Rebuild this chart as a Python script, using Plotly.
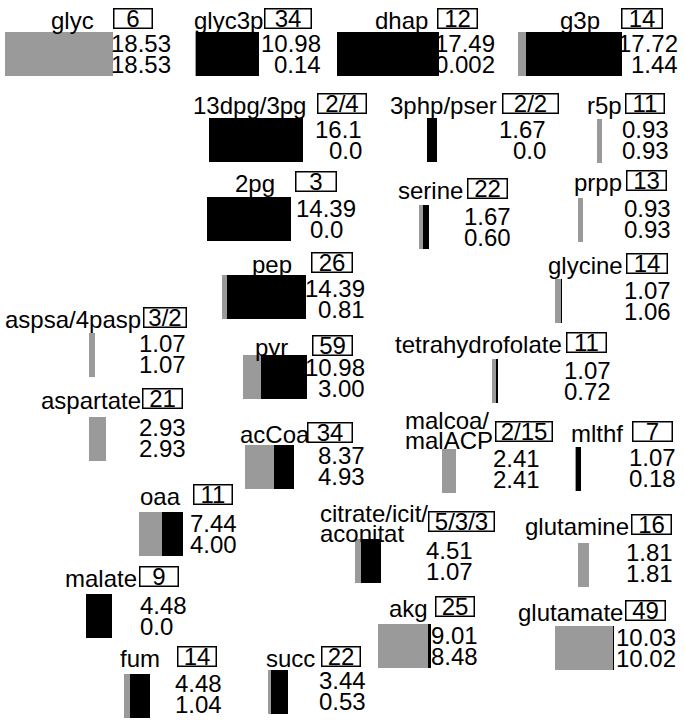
import plotly.graph_objects as go

# ---------------- data ----------------
names = ["glyc", "glyc3p", "dhap", "g3p", "13dpg/3pg", "3php/pser", "r5p",
         "2pg", "serine", "prpp", "pep", "glycine", "aspsa/4pasp", "pyr",
         "tetrahydrofolate", "aspartate", "acCoa", "malcoa/<br>malACP", "mlthf",
         "oaa", "citrate/icit/<br>aconitat", "glutamine", "malate", "akg",
         "glutamate", "fum", "succ"]
box_text = ["6", "34", "12", "14", "2/4", "2/2", "11",
            "3", "22", "13", "26", "14", "3/2", "59",
            "11", "21", "34", "2/15", "7",
            "11", "5/3/3", "16", "9", "25",
            "49", "14", "22"]
total_txt = ["18.53", "10.98", "17.49", "17.72", "16.1", "1.67", "0.93",
             "14.39", "1.67", "0.93", "14.39", "1.07", "1.07", "10.98",
             "1.07", "2.93", "8.37", "2.41", "1.07",
             "7.44", "4.51", "1.81", "4.48", "9.01",
             "10.03", "4.48", "3.44"]
part_txt = ["18.53", "0.14", "0.002", "1.44", "0.0", "0.0", "0.93",
            "0.0", "0.60", "0.93", "0.81", "1.06", "1.07", "3.00",
            "0.72", "2.93", "4.93", "2.41", "0.18",
            "4.00", "1.07", "1.81", "0.0", "8.48",
            "10.02", "1.04", "0.53"]
total = [float(s) for s in total_txt]
part = [float(s) for s in part_txt]

# ---------------- layout (pixels) ----------------
K = 5.85          # pixels per unit of value
W, H = 685, 720
BAR_H = 44
FS = 24
GRAY = "#9a9a9a"
LDY = 2           # label baseline nudge

# label: (x, y, anchor)
label_pos = [(72.5, 18.5, "center"), (228, 18.5, "center"), (401.5, 18.5, "center"), (580, 18.5, "center"),
             (249.5, 103.5, "center"), (443, 103.5, "center"), (604, 103.5, "center"),
             (255, 181, "center"), (430.5, 188.5, "center"), (597.5, 180.5, "center"),
             (272, 262.5, "center"), (585.5, 263.5, "center"), (72.5, 317, "center"),
             (271, 345, "center"), (478, 342.5, "center"), (90.5, 398.5, "center"),
             (274.5, 432.5, "center"), (403, 418, "left"), (596.5, 431, "center"),
             (160, 494, "center"), (318, 511, "left"), (577, 524.5, "center"),
             (101, 576, "center"), (408, 606.5, "center"), (570.5, 610, "center"),
             (139.5, 656.5, "center"), (290, 656, "center")]
# box: (x1, x2, y)
box_pos = [(113, 153, 18.5), (264, 312, 18.5), (437, 478, 18.5), (621, 663, 18.5),
           (317, 367, 103.5), (502, 559, 103.5), (625, 665, 103.5),
           (295, 337, 181), (467, 508, 188.5), (626, 667, 180.5),
           (311, 353, 262.5), (626, 668, 263.5), (143, 187, 317),
           (312, 353, 345), (566, 607, 342.5), (142, 183, 398.5),
           (307, 353, 432.5), (495, 553, 431.5), (632, 673, 431),
           (193, 233, 494), (428, 495, 521), (631, 672, 524.5),
           (139, 179, 576), (435, 475, 606.5), (625, 666, 610),
           (177, 217, 656.5), (321, 361, 656)]
# bar: (left, top)
bar_pos = [(5, 32), (195, 32), (337, 32), (518, 32),
           (209, 118), (427, 118), (597, 119),
           (207, 197), (419, 205), (578, 198),
           (222, 275), (555, 279), (89, 333),
           (243, 355), (492, 359), (89, 417),
           (245, 445), (442, 449), (575, 447),
           (139, 512), (355, 539), (578, 543),
           (86, 594), (378, 624), (555, 626),
           (124, 674), (268, 670)]
# numbers: (x, first line y, anchor)
num_pos = [(173, 43, "right"), (323, 43, "right"), (497, 43, "right"), (680, 43, "right"),
           (364, 129, "right"), (548, 129, "right"), (671, 129, "right"),
           (326, 208, "center"), (513, 216, "right"), (673, 208, "right"),
           (367, 288, "right"), (673, 290, "right"), (188, 343, "right"),
           (367, 367, "right"), (613, 370, "right"), (188, 427, "right"),
           (367, 455, "right"), (542, 458, "right"), (678, 457, "right"),
           (239, 523, "right"), (475, 550, "right"), (675, 552, "right"),
           (138, 605, "left"), (480, 635, "right"), (678, 637, "right"),
           (224, 683, "right"), (368, 680, "right")]
LINE = 21

font = dict(family="Liberation Sans, Arial, sans-serif", size=FS, color="black")

fig = go.Figure()
ys = [t + BAR_H / 2 for (_, t) in bar_pos]
lefts = [l / K for (l, _) in bar_pos]
fig.add_trace(go.Bar(orientation="h", y=ys, x=part, base=lefts, width=BAR_H,
                     marker=dict(color=GRAY, line=dict(width=0)), hoverinfo="skip"))
fig.add_trace(go.Bar(orientation="h", y=ys, x=[t - p for t, p in zip(total, part)],
                     base=[b + p for b, p in zip(lefts, part)], width=BAR_H,
                     marker=dict(color="black", line=dict(width=0)), hoverinfo="skip"))

ann = []
for i, nm in enumerate(names):
    lx, ly, la = label_pos[i]
    lines = nm.split("<br>")
    step = 20 if len(lines) > 1 else 0
    for j, ln in enumerate(lines):
        ann.append(dict(x=lx / K, y=ly + LDY + j * step, text=ln, xanchor=la, yanchor="middle",
                        showarrow=False, font=font))
    x1, x2, by = box_pos[i]
    ann.append(dict(x=(x1 + x2) / 2 / K, y=by, text=box_text[i], xanchor="center", yanchor="middle",
                    showarrow=False, font=font, width=x2 - x1 - 3, height=18,
                    bordercolor="black", borderwidth=1.5, borderpad=0, align="center"))
    nx, ny, na = num_pos[i]
    ann.append(dict(x=nx / K, y=ny, text=total_txt[i], xanchor=na, yanchor="middle",
                    showarrow=False, font=font))
    ann.append(dict(x=nx / K, y=ny + LINE, text=part_txt[i], xanchor=na, yanchor="middle",
                    showarrow=False, font=font))

fig.update_layout(
    width=W, height=H, margin=dict(l=0, r=0, t=0, b=0),
    paper_bgcolor="white", plot_bgcolor="white", showlegend=False,
    barmode="overlay", bargap=0,
    xaxis=dict(range=[0, W / K], visible=False, fixedrange=True),
    yaxis=dict(range=[H, 0], visible=False, fixedrange=True),
    annotations=ann,
)
fig.write_html("out.html", config={"displayModeBar": False},
               post_script="document.body.style.margin='0';")
